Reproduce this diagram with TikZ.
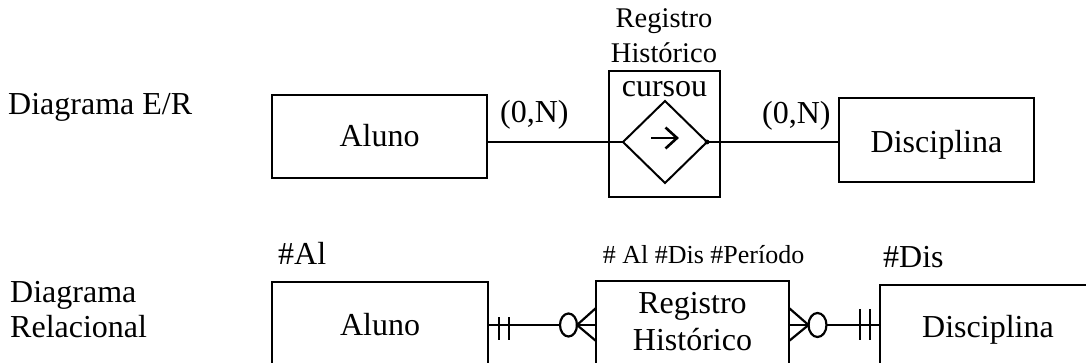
\documentclass[tikz,border=0pt]{standalone}
\usepackage{fontspec}
\setmainfont{Liberation Serif}
\begin{document}
\begin{tikzpicture}[x=1pt,y=-1pt,
  big/.style={inner sep=0pt,font=\fontsize{32}{36}\selectfont},
  mid/.style={inner sep=0pt,font=\fontsize{28.5}{34}\selectfont},
  small/.style={inner sep=0pt,font=\fontsize{26}{30}\selectfont},
  entbox/.style={draw,line width=2.5pt},
  conn/.style={line width=2.2pt},
  relbox/.style={draw,line width=1.6pt},
  card/.style={line width=2.2pt}]
\useasboundingbox (0,0) rectangle (1086,363);
% ---- E/R diagram ----
\node[big,anchor=base west] (lblER) at (8,115) {Diagrama E/R};
\node[entbox,minimum width=215pt,minimum height=83pt,inner sep=0pt] (alunoT) at (379.5,136.5) {};
\node[big,anchor=base] (alunoTt) at (379.5,147) {Aluno};
\node[entbox,minimum width=195pt,minimum height=84pt,inner sep=0pt] (discT) at (936.5,140) {};
\node[big,anchor=base] (discTt) at (936.5,153) {Disciplina};
\node[relbox,minimum width=111pt,minimum height=126pt,inner sep=0pt] (regT) at (664.5,134) {};
\node[mid,anchor=base] (regT1) at (664,28) {Registro};
\node[mid,anchor=base] (regT2) at (664,63) {Histórico};
\node[big,anchor=base] (curs) at (664.5,97) {cursou};
\coordinate (dl) at (623,142);
\coordinate (dr) at (707,142);
\coordinate (dt) at (665,101);
\coordinate (db) at (665,183);
\draw[line width=2pt,line join=miter] (dl) -- (dt) -- (dr) -- (db) -- cycle;
\fill (dr) circle (2.4pt);
\coordinate (ar1) at (651,138);
\coordinate (ar2) at (677,138);
\draw[line width=2.6pt] (ar1) -- (ar2);
\draw[line width=2.6pt] (665.5,127.5) -- (ar2) -- (665.5,148.5);
\draw[conn] (alunoT.east |- dl) -- (dl);
\draw[conn] (dr) -- (discT.west |- dr);
\node[big,anchor=base west] (card1) at (500,123) {(0,N)};
\node[big,anchor=base west] (card2) at (762,124) {(0,N)};
% ---- Relational diagram ----
\node[big,anchor=base west] (lblR1) at (10,302) {Diagrama};
\node[big,anchor=base west] (lblR2) at (10,337) {Relacional};
\draw[line width=2.5pt] (272,366) -- (272,282) -- (488,282) -- (488,366);
\coordinate (alunoBe) at (488,325);
\node[big,anchor=base] (alunoBt) at (380,335) {Aluno};
\node[big,anchor=base west] (keyA) at (278,265) {\#Al};
\draw[line width=2.5pt] (596,366) -- (596,281) -- (789,281) -- (789,366);
\coordinate (regBl) at (596,325);
\coordinate (regBr) at (789,325);
\node[big,anchor=base] (regB1) at (692.5,313) {Registro};
\node[big,anchor=base] (regB2) at (692.5,350) {Histórico};
\node[small,anchor=base] (keyR) at (703.5,263) {\# Al \#Dis \#Período};
\draw[line width=2.5pt] (880,366) -- (880,285) -- (1090,285);
\coordinate (discBl) at (880,325);
\node[big,anchor=base west] (discBt) at (922,337) {Disciplina};
\node[big,anchor=base west] (keyD) at (883,267) {\#Dis};
% left connector: Aluno (one) -- Registro (many)
\coordinate (c1) at (568.5,325);
\draw[conn] (alunoBe) -- (560,325);
\draw[card] (499,317) -- (499,340);
\draw[card] (509,317) -- (509,340);
\draw[card] (c1) ellipse (8.5pt and 11.5pt);
\draw[card] (577,325) -- (regBl);
\draw[card] (regBl |- 0,308) -- (577,325) -- (regBl |- 0,341);
% right connector: Registro (many) -- Disciplina (one)
\coordinate (c2) at (817.5,325);
\draw[card] (regBr) -- (808.5,325);
\draw[card] (regBr |- 0,308) -- (808.5,325) -- (regBr |- 0,341);
\draw[card] (c2) ellipse (9pt and 12pt);
\draw[conn] (826.5,325) -- (discBl);
\draw[card] (860,309) -- (860,340);
\draw[card] (870,309) -- (870,340);
\end{tikzpicture}
\end{document}
